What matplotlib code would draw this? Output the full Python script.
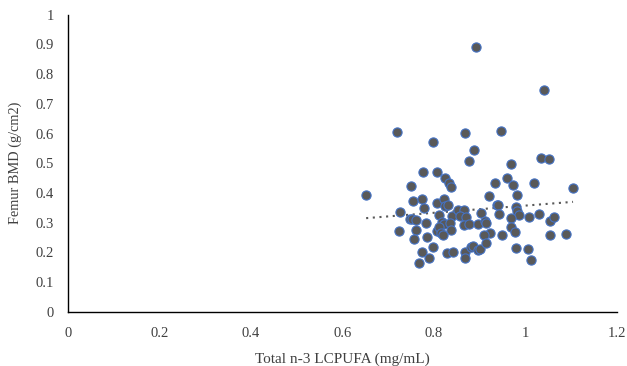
import numpy as np
import matplotlib
matplotlib.use("Agg")
import matplotlib.pyplot as plt

x_vals = [0.652, 0.719, 0.750, 0.777, 0.807, 0.825, 0.834, 0.837, 0.755, 0.775,
          0.779, 0.726, 0.747, 0.753, 0.760, 0.724, 0.762, 0.782, 0.757, 0.784,
          0.797, 0.773, 0.789, 0.768, 0.807, 0.822, 0.825, 0.831, 0.811, 0.840,
          0.817, 0.822, 0.835, 0.806, 0.812, 0.815, 0.820, 0.837, 0.853, 0.865,
          0.858, 0.871, 0.904, 0.865, 0.877, 0.896, 0.829, 0.842, 0.869, 0.867,
          0.880, 0.885, 0.896, 0.901, 0.892, 0.797, 0.867, 0.887, 0.876, 1.040,
          0.946, 1.033, 1.051, 0.969, 0.959, 0.933, 0.972, 1.019, 1.104, 0.921,
          0.981, 0.937, 0.941, 0.979, 0.982, 0.985, 0.943, 0.968, 1.008, 1.030,
          1.053, 1.062, 0.912, 0.914, 0.968, 0.978, 0.922, 0.909, 0.948, 1.053,
          1.088, 0.914, 0.979, 1.006, 1.012]
y_vals = [0.393, 0.606, 0.424, 0.471, 0.471, 0.452, 0.432, 0.421, 0.372, 0.378,
          0.348, 0.337, 0.314, 0.314, 0.309, 0.273, 0.275, 0.299, 0.244, 0.252,
          0.219, 0.203, 0.181, 0.164, 0.365, 0.381, 0.356, 0.359, 0.325, 0.322,
          0.303, 0.297, 0.299, 0.273, 0.284, 0.264, 0.258, 0.275, 0.342, 0.342,
          0.322, 0.320, 0.331, 0.292, 0.295, 0.295, 0.199, 0.200, 0.202, 0.180,
          0.219, 0.221, 0.208, 0.213, 0.890, 0.573, 0.601, 0.544, 0.506, 0.746,
          0.607, 0.519, 0.514, 0.499, 0.449, 0.432, 0.426, 0.432, 0.415, 0.389,
          0.392, 0.359, 0.361, 0.353, 0.340, 0.325, 0.329, 0.316, 0.320, 0.329,
          0.306, 0.318, 0.306, 0.299, 0.284, 0.268, 0.266, 0.258, 0.260, 0.258,
          0.261, 0.232, 0.215, 0.213, 0.175]

x_ticks = [0, 0.2, 0.4, 0.6, 0.8, 1, 1.2]
x_tick_labels = ["0", "0.2", "0.4", "0.6", "0.8", "1", "1.2"]
y_ticks = [0, 0.1, 0.2, 0.3, 0.4, 0.5, 0.6, 0.7, 0.8, 0.9, 1]
y_tick_labels = ["0", "0.1", "0.2", "0.3", "0.4", "0.5", "0.6", "0.7", "0.8", "0.9", "1"]

plt.rcParams['font.family'] = ['Liberation Serif', 'DejaVu Serif']

fig = plt.figure(figsize=(6.27, 3.66), dpi=100)
ax = fig.add_axes([0.108, 0.148, 0.876, 0.812])

x = np.array(x_vals)
y = np.array(y_vals)
ax.scatter(x, y, s=44, facecolor="#595959", edgecolor="#4472C4", linewidth=0.8, zorder=3)

m, b = np.polyfit(x, y, 1)
xl = np.array([x.min(), x.max()])
ax.plot(xl, m * xl + b, linestyle=(0, (1, 2.2)), color="#595959", linewidth=1.5, zorder=2)

ax.set_xlim(0, 1.2)
ax.set_ylim(0, 1)
ax.set_xticks(x_ticks)
ax.set_xticklabels(x_tick_labels)
ax.set_yticks(y_ticks)
ax.set_yticklabels(y_tick_labels)
ax.tick_params(axis="both", length=0, labelsize=10.5, colors="#404040")
ax.tick_params(axis="x", pad=11)
ax.tick_params(axis="y", pad=10)

for s in ["top", "right"]:
    ax.spines[s].set_visible(False)
for s in ["left", "bottom"]:
    ax.spines[s].set_color("black")
    ax.spines[s].set_linewidth(1.0)

ax.set_xlabel("Total n-3 LCPUFA (mg/mL)", fontsize=11, color="#404040", labelpad=9)
ax.set_ylabel("Femur BMD (g/cm2)", fontsize=10.3, color="#404040", labelpad=10)

fig.savefig("out.png", dpi=100)
